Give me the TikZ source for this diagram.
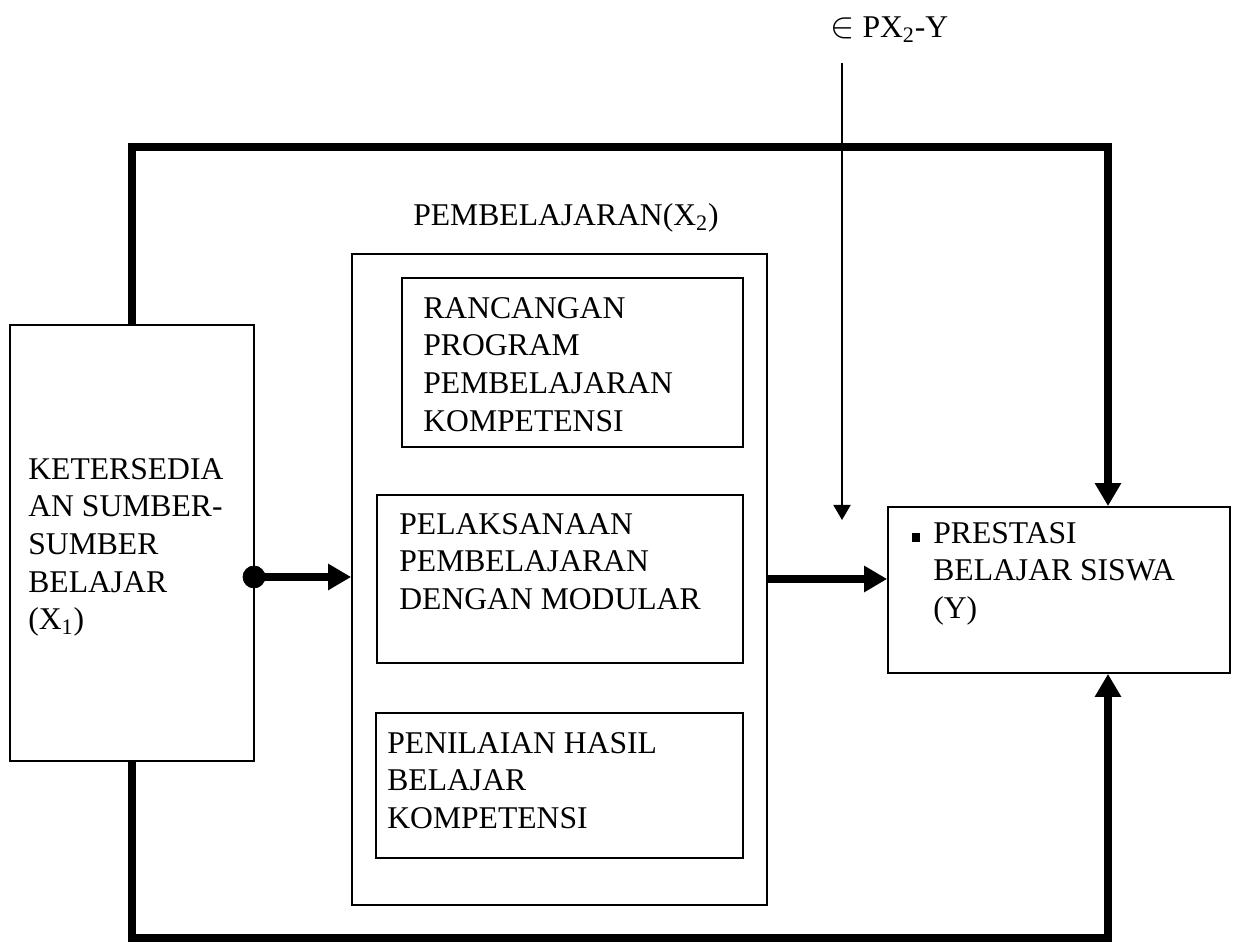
\documentclass[tikz,border=0pt]{standalone}
\usepackage{fontspec}
\setmainfont{Liberation Serif}
\usetikzlibrary{arrows.meta}

\begin{document}
\begin{tikzpicture}
  [box/.style={draw=black,line width=1pt,inner sep=0pt},
  txt/.style={anchor=north west,align=left,inner sep=0pt,font=\fontsize{18}{21.4}\selectfont},
  thickline/.style={line width=4.5pt},
  thickarrow/.style={line width=4.5pt,-{Triangle[length=0.46cm,width=0.5cm]}},
  thinarrow/.style={line width=1.1pt,-{Triangle[length=0.3cm,width=0.34cm]}},
  dot/.style={circle,draw=black,fill=black,inner sep=0pt,minimum size=0.44cm}]
  \useasboundingbox (0,0) rectangle (24.76,18.86);

  \node[box,minimum width=4.88cm,minimum height=8.72cm] (sumber) at (2.64,8.0) {};
  \node[box,minimum width=8.3cm,minimum height=13.02cm] (pembelajaran) at (11.19,7.27) {};
  \node[box,minimum width=6.82cm,minimum height=3.38cm] (rancangan) at (11.45,11.61) {};
  \node[box,minimum width=7.32cm,minimum height=3.36cm] (pelaksanaan) at (11.2,7.28) {};
  \node[box,minimum width=7.34cm,minimum height=2.9cm] (penilaian) at (11.19,3.15) {};
  \node[box,minimum width=6.84cm,minimum height=3.32cm] (prestasi) at (21.18,7.06) {};

  \node[txt] (sumber text) at (0.56,9.70) {KETERSEDIA\\AN SUMBER-\\SUMBER\\BELAJAR\\(X\textsubscript{1})};
  \node[txt] (rancangan text) at (8.46,12.92) {RANCANGAN\\PROGRAM\\PEMBELAJARAN\\KOMPETENSI};
  \node[txt] (pelaksanaan text) at (7.98,8.6) {PELAKSANAAN\\PEMBELAJARAN\\DENGAN MODULAR};
  \node[txt] (penilaian text) at (7.74,4.22) {PENILAIAN HASIL\\BELAJAR\\KOMPETENSI};
  \node[txt] (prestasi text) at (18.66,8.42) {\llap{\rule[1pt]{4.8pt}{4.8pt}\hspace{7.4pt}}PRESTASI\\BELAJAR SISWA\\(Y)};
  \node[txt,anchor=base] (pembelajaran label) at (11.32,14.34) {PEMBELAJARAN(X\textsubscript{2})};
  \node[txt,anchor=base west] (error label) at (16.6,18.1) {{\fontsize{22}{22}\selectfont$\in$} PX\textsubscript{2}-Y};

  \coordinate (tr) at (22.16,15.92);
  \coordinate (br) at (22.16,0.1);
  \coordinate (err top) at (16.84,17.6);
  \coordinate (err end) at (16.84,8.46);
  \node[dot] (split) at (5.08,7.32) {};

  \draw[thickarrow] (sumber.north) |- (tr) -- (tr |- prestasi.north);
  \draw[thickarrow] (sumber.south) |- (br) -- (br |- prestasi.south);
  \draw[thickarrow] (split.center) -- (split -| pembelajaran.west);
  \draw[thickarrow] (pelaksanaan -| pembelajaran.east) -- (pelaksanaan -| prestasi.west);
  \draw[thinarrow] (err top) -- (err end);
\end{tikzpicture}
\end{document}
